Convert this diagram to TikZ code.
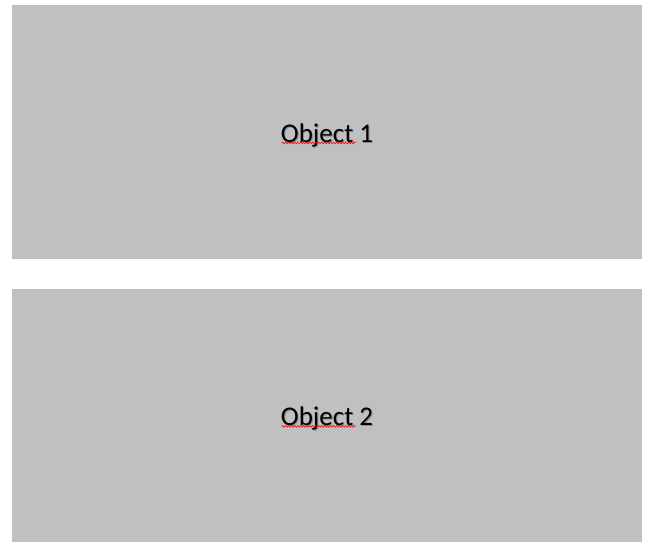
\documentclass[tikz,border=0pt]{standalone}
\usepackage{fontspec}
\setmainfont{Carlito}
\usetikzlibrary{decorations.pathmorphing}
\definecolor{boxgrey}{HTML}{C0C0C0}
\definecolor{shadowgrey}{HTML}{8C8C8C}
\begin{document}
\begin{tikzpicture}[x=1pt,y=-1pt,
  objbox/.style={fill=boxgrey,draw=none,minimum width=630pt,minimum height=254pt,inner sep=0pt,outer sep=0pt},
  objtext/.style={font=\fontsize{27}{30}\selectfont,inner sep=0pt},
  shadowtext/.style={objtext,text=shadowgrey},
  squiggle/.style={draw=red,line width=0.6pt,decorate,decoration={snake,amplitude=0.9pt,segment length=3pt}}]
\useasboundingbox (0,0) rectangle (653,551);
\node[objbox] (box1) at (327,132) {};
\node[objbox,minimum height=253pt] (box2) at (327,415.5) {};
\node[shadowtext] (s1) at ([xshift=1pt,yshift=-4pt]box1.center) {Object 1};
\node[shadowtext] (s2) at ([xshift=1pt,yshift=-4pt]box2.center) {Object 2};
\node[objtext] (t1) at ([yshift=-3pt]box1.center) {Object 1};
\node[objtext] (t2) at ([yshift=-3pt]box2.center) {Object 2};
\draw[squiggle] ([xshift=1pt,yshift=4pt]t1.south west) -- ++(74,0);
\draw[squiggle] ([xshift=1pt,yshift=4pt]t2.south west) -- ++(74,0);
\end{tikzpicture}
\end{document}
